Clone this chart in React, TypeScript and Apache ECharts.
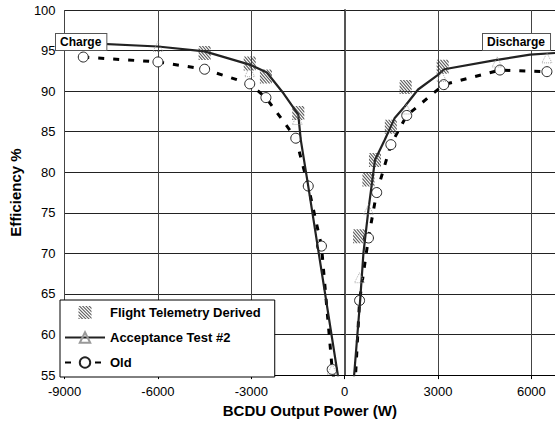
import React, { useEffect, useRef } from 'react';
import * as echarts from 'echarts';

const flightTelemetry: [number, number][] = [
  [-4500, 94.7], [-3050, 93.4], [-2530, 91.8], [-1490, 87.3],
  [465, 72.1], [765, 79.1], [975, 81.5], [1485, 85.6], [1960, 90.5], [3150, 93.0],
];

const acceptanceCharge: [number, number][] = [
  [-8800, 96.0], [-6000, 95.5], [-4500, 94.9], [-3000, 93.2], [-2500, 92.3],
  [-2000, 89.9], [-1490, 87.1], [-1410, 84.0], [-1170, 78.3], [-190, 54.3],
];
const acceptanceDischarge: [number, number][] = [
  [290, 54.3], [500, 64.3], [605, 70.1], [765, 75.4], [975, 81.5], [1290, 84.0],
  [1610, 86.7], [1930, 88.1], [2360, 90.2], [3000, 92.0], [3200, 92.7],
  [4800, 93.8], [5960, 94.5], [6760, 94.7],
];
const acceptanceMarkers: [number, number][] = [
  [-6000, 95.5], [-3050, 92.4], [-1520, 86.5], [-400, 55.7],
  [477, 67.0], [765, 75.4], [1985, 87.8], [3120, 91.8], [4900, 93.6], [6500, 94.1],
];

const oldCharge: [number, number][] = [
  [-8400, 94.2], [-6000, 93.6], [-4500, 92.7], [-3050, 90.9], [-2530, 89.2],
  [-1570, 84.2], [-1170, 78.3], [-745, 70.9], [-400, 55.7], [-300, 53.5],
];
const oldDischarge: [number, number][] = [
  [330, 53.5], [480, 64.2], [765, 71.9], [1030, 77.5], [1485, 83.4],
  [1995, 87.0], [3185, 90.8], [4990, 92.6], [6500, 92.4],
];

const seriesNames = ['Flight Telemetry Derived', 'Acceptance Test #2', 'Old'];

function hatchPath(): string {
  const s = 12;
  const w = 1.4;
  const seg = (c: number): number[] =>
    c >= 0 ? [0, c, s - c, s] : [-c, 0, s, s + c];
  let d = '';
  for (let c = -10.5; c < 11; c += 3) {
    const a = seg(c);
    const b = seg(c + w);
    d += `M${a[0]},${a[1]} L${a[2]},${a[3]} L${b[2]},${b[3]} L${b[0]},${b[1]} Z `;
  }
  return 'path://' + d + 'M0,0 L0.01,0 Z M12,12 L11.99,12 Z';
}

const FONT = 'Liberation Sans';

export default function App() {
  const ref = useRef<HTMLDivElement>(null);
  useEffect(() => {
    if (!ref.current) return;
    const chart = echarts.init(ref.current, undefined, { renderer: 'svg' });
    const hatch = hatchPath();
    const oldStyle = {
      type: 'line' as const,
      name: 'Old',
      symbol: 'circle',
      symbolSize: 10,
      showAllSymbol: true,
      itemStyle: { color: '#fff', borderColor: '#222', borderWidth: 1 },
      lineStyle: { color: '#000', width: 3, type: [6, 9] as any },
      z: 3,
    };
    const accStyle = {
      type: 'line' as const,
      name: 'Acceptance Test #2',
      symbol: 'triangle',
      symbolSize: 9,
      showSymbol: false,
      itemStyle: { color: 'rgba(255,255,255,0)', borderColor: '#999', borderWidth: 1, borderType: 'dotted' },
      lineStyle: { color: '#222', width: 2.2 },
      z: 4,
    };
    chart.setOption({
      animation: false,
      backgroundColor: '#fff',
      grid: { left: 60, top: 10, right: 0, bottom: 47 },
      xAxis: {
        type: 'value',
        min: -9000,
        max: 6760,
        interval: 3000,
        name: 'BCDU Output Power (W)',
        nameLocation: 'middle',
        nameGap: 26,
        nameTextStyle: { fontFamily: FONT, fontSize: 15, fontWeight: 'bold', color: '#000' },
        axisLine: { onZero: false, lineStyle: { color: '#000', width: 1 } },
        axisTick: { show: true, length: 4, lineStyle: { color: '#000' } },
        axisLabel: {
          fontFamily: FONT, fontSize: 13, color: '#000', margin: 10, showMaxLabel: false,
          formatter: (v: number) => String(v),
        },
        splitLine: {
          show: true,
          lineStyle: { color: ['#444', '#444', '#444', '#999', '#444', '#444'], width: 1 },
        },
      },
      yAxis: {
        type: 'value',
        min: 55,
        max: 100,
        interval: 5,
        name: 'Efficiency %',
        nameLocation: 'middle',
        nameRotate: 90,
        nameGap: 34,
        nameTextStyle: { fontFamily: FONT, fontSize: 15, fontWeight: 'bold', color: '#000' },
        axisLine: { show: true, lineStyle: { color: '#555', width: 2 } },
        axisTick: { show: true, length: 4, lineStyle: { color: '#000' } },
        axisLabel: { fontFamily: FONT, fontSize: 13, color: '#000', margin: 9 },
        splitLine: { show: true, lineStyle: { color: '#222', width: 1 } },
      },
      legend: {
        data: seriesNames,
        orient: 'vertical',
        left: 60,
        top: 300,
        itemWidth: 40,
        itemHeight: 13,
        itemGap: 12,
        padding: [6, 14, 8, 4],
        backgroundColor: '#fff',
        borderColor: '#000',
        borderWidth: 1,
        textStyle: { fontFamily: FONT, fontSize: 13, fontWeight: 'bold', color: '#000' },
        z: 10,
      },
      graphic: [
        {
          type: 'text',
          left: 55,
          top: 33,
          z: 20,
          style: {
            text: 'Charge',
            font: `bold 12px "${FONT}"`,
            fill: '#000',
            backgroundColor: '#fff',
            borderColor: '#555',
            borderWidth: 1,
            padding: [2, 5, 2, 4],
          },
        },
        {
          type: 'text',
          left: 482,
          top: 33,
          z: 20,
          style: {
            text: 'Discharge',
            font: `bold 12px "${FONT}"`,
            fill: '#000',
            backgroundColor: '#fff',
            borderColor: '#555',
            borderWidth: 1,
            padding: [2, 5, 2, 4],
          },
        },
      ],
      series: [
        {
          type: 'scatter',
          name: 'Flight Telemetry Derived',
          symbol: hatch,
          symbolSize: [12, 14],
          itemStyle: { color: '#333' },
          data: flightTelemetry,
          z: 5,
        },
        { ...accStyle, data: acceptanceCharge },
        { ...accStyle, data: acceptanceDischarge },
        {
          type: 'scatter',
          name: 'acc-markers',
          symbol: 'triangle',
          symbolSize: 10,
          itemStyle: { color: 'rgba(255,255,255,0)', borderColor: '#999', borderWidth: 1, borderType: 'dotted' },
          data: acceptanceMarkers,
          z: 4,
        },
        { ...oldStyle, data: oldCharge },
        { ...oldStyle, data: oldDischarge },
      ],
    });
    return () => chart.dispose();
  }, []);
  return <div ref={ref} style={{ width: 555, height: 423, position: 'absolute', left: 0, top: 0 }} />;
}
